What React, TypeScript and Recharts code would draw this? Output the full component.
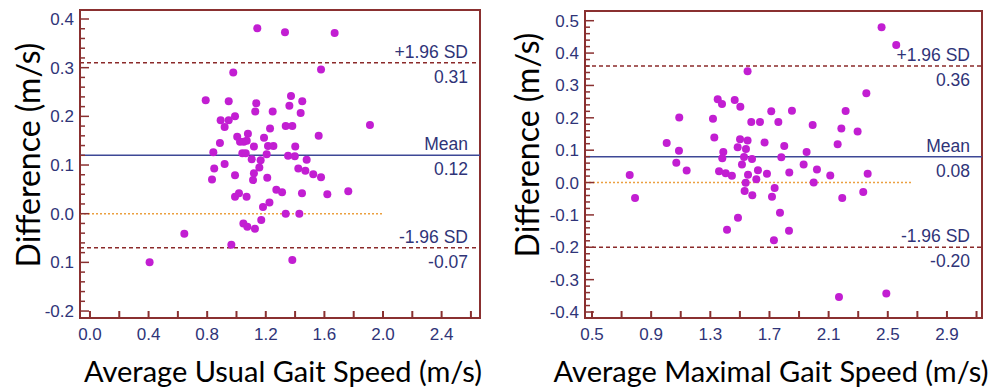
import {
  ScatterChart,
  Scatter,
  XAxis,
  YAxis,
  ReferenceLine,
  ReferenceArea,
} from 'recharts'

// Usual gait speed: average (m/s) vs difference (m/s)
const usualPoints = [
  { x: 1.142, y: 0.381 }, { x: 1.331, y: 0.373 }, { x: 1.67, y: 0.371 },
  { x: 0.978, y: 0.29 }, { x: 1.577, y: 0.296 }, { x: 0.79, y: 0.233 },
  { x: 0.947, y: 0.231 }, { x: 1.135, y: 0.227 }, { x: 1.372, y: 0.242 },
  { x: 1.449, y: 0.231 }, { x: 1.361, y: 0.222 }, { x: 1.128, y: 0.21 },
  { x: 1.247, y: 0.21 }, { x: 1.438, y: 0.207 }, { x: 0.892, y: 0.192 },
  { x: 0.947, y: 0.192 }, { x: 0.99, y: 0.2 }, { x: 0.919, y: 0.178 },
  { x: 1.336, y: 0.18 }, { x: 1.381, y: 0.18 }, { x: 1.229, y: 0.175 },
  { x: 1.911, y: 0.182 }, { x: 1.078, y: 0.164 }, { x: 1.005, y: 0.158 },
  { x: 1.188, y: 0.156 }, { x: 1.561, y: 0.16 }, { x: 1.024, y: 0.148 },
  { x: 1.05, y: 0.148 }, { x: 1.07, y: 0.15 }, { x: 0.887, y: 0.145 },
  { x: 1.119, y: 0.138 }, { x: 1.215, y: 0.139 }, { x: 1.252, y: 0.139 },
  { x: 1.401, y: 0.138 }, { x: 0.842, y: 0.126 }, { x: 1.04, y: 0.124 },
  { x: 1.063, y: 0.124 }, { x: 1.206, y: 0.122 }, { x: 1.352, y: 0.119 },
  { x: 1.398, y: 0.118 }, { x: 0.848, y: 0.093 }, { x: 0.919, y: 0.102 },
  { x: 1.104, y: 0.112 }, { x: 1.165, y: 0.11 }, { x: 1.156, y: 0.095 },
  { x: 1.479, y: 0.111 }, { x: 1.422, y: 0.093 }, { x: 1.47, y: 0.088 },
  { x: 0.99, y: 0.079 }, { x: 1.119, y: 0.083 }, { x: 1.21, y: 0.074 },
  { x: 1.524, y: 0.081 }, { x: 1.577, y: 0.075 }, { x: 0.833, y: 0.07 },
  { x: 1.113, y: 0.069 }, { x: 1.272, y: 0.049 }, { x: 1.311, y: 0.044 },
  { x: 1.447, y: 0.042 }, { x: 1.62, y: 0.04 }, { x: 1.763, y: 0.046 },
  { x: 0.99, y: 0.035 }, { x: 1.017, y: 0.042 }, { x: 1.069, y: 0.035 },
  { x: 1.225, y: 0.023 }, { x: 1.181, y: 0.014 }, { x: 1.336, y: 0.0 },
  { x: 1.429, y: 0.0 }, { x: 1.047, y: -0.02 }, { x: 1.074, y: -0.027 },
  { x: 1.126, y: -0.031 }, { x: 1.169, y: -0.013 }, { x: 0.644, y: -0.041 },
  { x: 0.965, y: -0.064 }, { x: 0.407, y: -0.1 }, { x: 1.381, y: -0.095 },
]

// Maximal gait speed: average (m/s) vs difference (m/s)
const maximalPoints = [
  { x: 2.458, y: 0.48 }, { x: 2.557, y: 0.425 }, { x: 1.552, y: 0.344 },
  { x: 2.355, y: 0.276 }, { x: 1.35, y: 0.257 }, { x: 1.465, y: 0.255 },
  { x: 1.379, y: 0.243 }, { x: 1.503, y: 0.234 }, { x: 1.712, y: 0.22 },
  { x: 1.852, y: 0.222 }, { x: 2.215, y: 0.221 }, { x: 1.09, y: 0.201 },
  { x: 1.318, y: 0.197 }, { x: 1.577, y: 0.187 }, { x: 1.636, y: 0.187 },
  { x: 1.76, y: 0.187 }, { x: 1.992, y: 0.178 }, { x: 2.186, y: 0.167 },
  { x: 2.296, y: 0.158 }, { x: 1.327, y: 0.139 }, { x: 1.501, y: 0.134 },
  { x: 1.552, y: 0.13 }, { x: 1.005, y: 0.122 }, { x: 1.667, y: 0.124 },
  { x: 1.485, y: 0.109 }, { x: 1.541, y: 0.104 }, { x: 1.8, y: 0.113 },
  { x: 2.161, y: 0.118 }, { x: 1.088, y: 0.098 }, { x: 1.388, y: 0.094 },
  { x: 1.951, y: 0.094 }, { x: 1.381, y: 0.075 }, { x: 1.528, y: 0.079 },
  { x: 1.582, y: 0.073 }, { x: 1.78, y: 0.078 }, { x: 1.07, y: 0.061 },
  { x: 1.514, y: 0.056 }, { x: 1.931, y: 0.056 }, { x: 1.14, y: 0.037 },
  { x: 1.359, y: 0.035 }, { x: 1.404, y: 0.029 }, { x: 1.446, y: 0.021 },
  { x: 1.622, y: 0.038 }, { x: 2.021, y: 0.04 }, { x: 0.755, y: 0.023 },
  { x: 1.555, y: 0.024 }, { x: 1.611, y: 0.01 }, { x: 1.683, y: 0.027 },
  { x: 1.834, y: 0.031 }, { x: 2.111, y: 0.022 }, { x: 2.364, y: 0.027 },
  { x: 1.539, y: -0.001 }, { x: 1.999, y: 0.0 }, { x: 1.735, y: -0.017 },
  { x: 1.532, y: -0.026 }, { x: 1.584, y: -0.039 }, { x: 1.717, y: -0.044 },
  { x: 2.334, y: -0.029 }, { x: 0.791, y: -0.048 }, { x: 2.192, y: -0.048 },
  { x: 1.771, y: -0.093 }, { x: 1.487, y: -0.109 }, { x: 1.413, y: -0.146 },
  { x: 1.832, y: -0.149 }, { x: 1.73, y: -0.178 }, { x: 2.17, y: -0.354 },
  { x: 2.49, y: -0.343 },
]

// Bland-Altman statistics
const usualStats = { mean: 0.12, upper: 0.31, lower: -0.07, zeroEnd: 2.0 }
const maximalStats = { mean: 0.08, upper: 0.36, lower: -0.2, zeroEnd: 2.66 }

// tick labels
const usualXLabels = ['0.0', '0.4', '0.8', '1.2', '1.6', '2.0', '2.4']
const usualYLabels = ['-0.2', '0.1', '0.0', '0.1', '0.2', '0.3', '0.4']
const maximalXLabels = ['0.5', '0.9', '1.3', '1.7', '2.1', '2.5', '2.9']
const maximalYLabels = ['-0.4', '-0.3', '-0.2', '-0.1', '0.0', '0.1', '0.2', '0.3', '0.4', '0.5']

const FRAME = '#8a3030'
const NAVY = '#2f3478'
const DOT = '#c21ed2'
const TICK_FONT = '"Liberation Sans", Arial, sans-serif'
const TITLE_FONT = 'Lato, "Open Sans", sans-serif'

const W = 496
const H = 389

function steps(from: number, to: number, step: number) {
  const out: number[] = []
  const n = Math.round((to - from) / step)
  for (let i = 0; i <= n; i++) out.push(Math.round((from + i * step) * 1000) / 1000)
  return out
}

const labelFor = (labels: string[], start: number, every: number) => (v: number) => {
  const k = (v - start) / every
  if (Math.abs(k - Math.round(k)) > 1e-6) return ''
  return labels[Math.round(k)] ?? ''
}

const makeXTick = (fmt: (v: number) => string) => (props: any) => {
  const { x, y, payload } = props
  const text = fmt(payload.value)
  return (
    <g>
      <line x1={x} x2={x} y1={y} y2={y - 7} stroke={FRAME} strokeWidth={2} />
      {text && (
        <text x={x} y={y + 22} textAnchor="middle" fill={NAVY} fontSize={17} fontFamily={TICK_FONT}>
          {text}
        </text>
      )}
    </g>
  )
}

const makeYTick = (fmt: (v: number) => string) => (props: any) => {
  const { x, y, payload } = props
  const text = fmt(payload.value)
  return (
    <g>
      <line x1={x} x2={x + (text ? 9 : 5)} y1={y} y2={y} stroke={FRAME} strokeWidth={1.5} />
      {text && (
        <text x={x - 6} y={y + 6} textAnchor="end" fill={NAVY} fontSize={17} fontFamily={TICK_FONT}>
          {text}
        </text>
      )}
    </g>
  )
}

const refLabel = (top: string, bottom: string) => (props: any) => {
  const vb = props.viewBox
  const x = vb.x + vb.width - 12
  return (
    <g>
      <text x={x} y={vb.y - 5} textAnchor="end" fill={NAVY} fontSize={17.5} fontFamily={TICK_FONT}>
        {top}
      </text>
      <text x={x} y={vb.y + 20} textAnchor="end" fill={NAVY} fontSize={17.5} fontFamily={TICK_FONT}>
        {bottom}
      </text>
    </g>
  )
}

const dot = (props: any) => <circle cx={props.cx} cy={props.cy} r={4} fill={DOT} />

interface PanelProps {
  points: Array<{ x: number; y: number }>
  stats: { mean: number; upper: number; lower: number; zeroEnd: number }
  xDomain: [number, number]
  yDomain: [number, number]
  xTicks: number[]
  yTicks: number[]
  xFmt: (v: number) => string
  yFmt: (v: number) => string
  margin: { top: number; right: number; bottom: number; left: number }
}

function Panel({ points, stats, xDomain, yDomain, xTicks, yTicks, xFmt, yFmt, margin }: PanelProps) {
  return (
    <ScatterChart width={W} height={H} margin={margin}>
      <XAxis
        type="number"
        dataKey="x"
        domain={xDomain}
        ticks={xTicks}
        interval={0}
        height={1}
        tickSize={0}
        tickMargin={0}
        axisLine={false}
        tickLine={false}
        tick={makeXTick(xFmt)}
        allowDataOverflow
      />
      <YAxis
        type="number"
        dataKey="y"
        domain={yDomain}
        ticks={yTicks}
        interval={0}
        width={1}
        tickSize={0}
        tickMargin={0}
        axisLine={false}
        tickLine={false}
        tick={makeYTick(yFmt)}
        allowDataOverflow
      />
      <ReferenceArea
        x1={xDomain[0]}
        x2={xDomain[1]}
        y1={yDomain[0]}
        y2={yDomain[1]}
        fill="none"
        fillOpacity={0}
        stroke={FRAME}
        strokeWidth={2}
        ifOverflow="visible"
      />
      <ReferenceLine
        segment={[{ x: xDomain[0], y: 0 }, { x: stats.zeroEnd, y: 0 }]}
        stroke="#eba040"
        strokeWidth={1.5}
        strokeDasharray="2 2"
      />
      <ReferenceLine
        y={stats.upper}
        stroke="#8b2a2a"
        strokeWidth={1.5}
        strokeDasharray="4 3"
        label={refLabel('+1.96 SD', stats.upper.toFixed(2))}
      />
      <ReferenceLine
        y={stats.mean}
        stroke="#3d4896"
        strokeWidth={1.5}
        label={refLabel('Mean', stats.mean.toFixed(2))}
      />
      <ReferenceLine
        y={stats.lower}
        stroke="#8b2a2a"
        strokeWidth={1.5}
        strokeDasharray="4 3"
        label={refLabel('-1.96 SD', stats.lower.toFixed(2))}
      />
      <Scatter data={points} shape={dot} isAnimationActive={false} />
    </ScatterChart>
  )
}

const titleStyle: React.CSSProperties = {
  position: 'absolute',
  fontFamily: TITLE_FONT,
  color: '#000',
  whiteSpace: 'nowrap',
  lineHeight: 1,
}

export default function App() {
  return (
    <div style={{ position: 'absolute', left: 0, top: 0, width: 996, height: 389, background: '#fff' }}>
      <div style={{ position: 'absolute', left: 0, top: 0 }}>
        <Panel
          points={usualPoints}
          stats={usualStats}
          xDomain={[-0.068, 2.662]}
          yDomain={[-0.2143, 0.4185]}
          xTicks={steps(0, 2.6, 0.2)}
          yTicks={steps(-0.2, 0.4, 0.02)}
          xFmt={labelFor(usualXLabels, 0, 0.4)}
          yFmt={labelFor(usualYLabels, -0.2, 0.1)}
          margin={{ top: 10, right: 16, bottom: 70, left: 79 }}
        />
      </div>
      <div style={{ position: 'absolute', left: 500, top: 0 }}>
        <Panel
          points={maximalPoints}
          stats={maximalStats}
          xDomain={[0.4527, 3.137]}
          yDomain={[-0.4185, 0.53]}
          xTicks={steps(0.5, 3.1, 0.2)}
          yTicks={steps(-0.4, 0.5, 0.02)}
          xFmt={labelFor(maximalXLabels, 0.5, 0.4)}
          yFmt={labelFor(maximalYLabels, -0.4, 0.1)}
          margin={{ top: 11, right: 14, bottom: 70, left: 84 }}
        />
      </div>
      <div style={{ ...titleStyle, left: 28, top: 155, fontSize: 32, transform: 'translate(-50%, -50%) rotate(-90deg)' }}>
        Difference (m/s)
      </div>
      <div style={{ ...titleStyle, left: 527, top: 145, fontSize: 32, transform: 'translate(-50%, -50%) rotate(-90deg)' }}>
        Difference (m/s)
      </div>
      <div style={{ ...titleStyle, left: 283, top: 370, fontSize: 29, transform: 'translate(-50%, -50%)' }}>
        Average Usual Gait Speed (m/s)
      </div>
      <div style={{ ...titleStyle, left: 771, top: 370, fontSize: 29, transform: 'translate(-50%, -50%)' }}>
        Average Maximal Gait Speed (m/s)
      </div>
    </div>
  )
}
